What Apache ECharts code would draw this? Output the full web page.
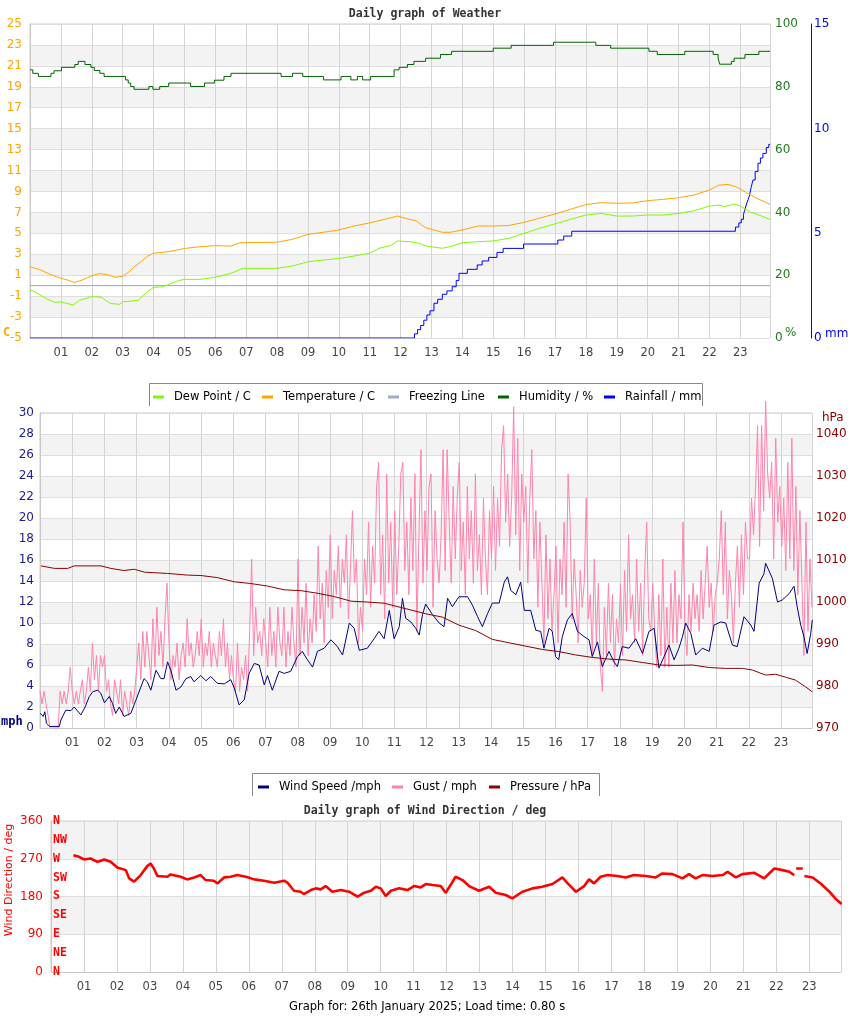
<!DOCTYPE html>
<html><head><meta charset="utf-8">
<script src="https://cdn.jsdelivr.net/npm/echarts@6/dist/echarts.min.js"></script>
<style>html,body{margin:0;padding:0;background:#fff}#c{width:850px;height:1017px}</style>
</head><body><div id="c"></div>
<script>
// ---------- DATA (hour of day, value) ----------
const hourTickLabels = ['01','02','03','04','05','06','07','08','09','10','11','12','13','14','15','16','17','18','19','20','21','22','23'];
const compassLabels = ['N','NE','E','SE','S','SW','W','NW','N'];

const temperature = [[0,1.8],[0.3,1.55],[0.6,1.15],[0.9,0.8],[1.2,0.55],[1.45,0.3],[1.7,0.55],[2.0,0.95],[2.25,1.15],[2.5,1.05],[2.75,0.8],[3.0,0.9],[3.2,1.3],[3.4,1.85],[3.6,2.3],[3.8,2.8],[4.0,3.1],[4.5,3.25],[5.0,3.55],[5.5,3.72],[6.0,3.82],[6.5,3.78],[6.8,4.1],[7.5,4.13],[8.0,4.15],[8.5,4.43],[9.0,4.9],[9.5,5.1],[10.0,5.32],[10.5,5.7],[11.0,6.0],[11.5,6.35],[11.9,6.65],[12.2,6.4],[12.5,6.2],[12.8,5.55],[13.35,5.1],[13.6,5.1],[14.0,5.32],[14.5,5.7],[15.0,5.7],[15.5,5.75],[16.0,6.05],[16.5,6.45],[17.0,6.85],[17.5,7.3],[18.0,7.75],[18.5,7.93],[19.0,7.87],[19.5,7.9],[20.0,8.12],[20.5,8.25],[21.0,8.4],[21.5,8.66],[22.0,9.14],[22.3,9.6],[22.6,9.68],[22.9,9.4],[23.2,8.88],[23.5,8.4],[23.96,7.77]];

const dewPoint = [[0,-0.4],[0.2,-0.65],[0.5,-1.2],[0.8,-1.6],[1.0,-1.55],[1.4,-1.85],[1.6,-1.4],[2.0,-1.05],[2.3,-1.1],[2.6,-1.7],[2.9,-1.78],[3.0,-1.55],[3.5,-1.4],[3.8,-0.57],[4.0,-0.16],[4.3,-0.1],[4.8,0.48],[5.0,0.6],[5.5,0.6],[6.0,0.8],[6.5,1.18],[6.9,1.66],[8.0,1.66],[8.2,1.75],[8.5,1.88],[9.0,2.29],[9.5,2.45],[10.0,2.6],[10.5,2.83],[11.0,3.1],[11.3,3.57],[11.7,3.86],[11.9,4.27],[12.3,4.2],[12.6,4.05],[12.8,3.8],[13.35,3.57],[13.6,3.73],[14.0,4.1],[14.5,4.2],[15.0,4.27],[15.5,4.52],[16.0,5.0],[16.5,5.48],[17.0,5.9],[17.5,6.34],[18.0,6.75],[18.5,6.9],[19.0,6.65],[19.5,6.65],[20.0,6.75],[20.5,6.75],[21.0,6.9],[21.5,7.16],[22.0,7.6],[22.3,7.7],[22.5,7.55],[22.8,7.8],[23.0,7.6],[23.3,7.07],[23.6,6.75],[23.96,6.34]];

const freezingLine = [[0,0],[23.96,0]];

// step changes (hour at which new value starts, value)
const humidity = [[0,85.4],[0.09,84.3],[0.27,83.3],[0.68,84.3],[0.78,85.1],[1.02,86.2],[1.45,87.1],[1.56,88.1],[1.78,87.1],[1.97,86.2],[2.08,85.2],[2.26,84.3],[2.4,83.3],[3.09,82.2],[3.18,81.2],[3.26,80.1],[3.37,79.2],[3.85,80.1],[3.98,79.2],[4.2,80.1],[4.49,81.2],[5.2,80.1],[5.65,81.2],[5.97,82.1],[6.28,83.3],[6.51,84.3],[8.13,83.3],[8.5,84.3],[8.83,83.3],[9.5,82.2],[10.07,83.3],[10.39,82.2],[10.6,83.3],[10.77,82.2],[11.03,83.3],[11.79,85.4],[11.95,86.2],[12.22,87.1],[12.43,88.1],[12.81,89.1],[13.29,90.3],[13.65,91.3],[15.0,92.3],[15.58,93.2],[16.95,94.2],[18.32,93.2],[18.8,92.3],[20.04,91.3],[20.31,90.3],[21.2,91.3],[22.12,90.3],[22.28,89.1],[22.33,87.2],[22.71,88.1],[22.8,89.1],[23.15,90.3],[23.6,91.3],[23.96,91.3]];

const rainfall = [[0,0],[12.35,0],[12.45,0.2],[12.55,0.4],[12.65,0.6],[12.75,0.85],[12.85,1.1],[12.95,1.3],[13.08,1.66],[13.2,1.85],[13.35,2.09],[13.5,2.25],[13.67,2.45],[13.8,2.75],[13.89,3.09],[14.16,3.28],[14.48,3.49],[14.64,3.68],[14.85,3.85],[15.12,4.09],[15.32,4.28],[15.98,4.49],[17.09,4.68],[17.28,4.87],[17.54,5.1],[22.84,5.3],[22.95,5.5],[23.03,5.67],[23.1,5.9],[23.14,6.1],[23.2,6.4],[23.25,6.6],[23.3,6.83],[23.35,7.2],[23.41,7.55],[23.48,7.95],[23.57,8.35],[23.65,8.6],[23.73,8.82],[23.84,9.1],[23.92,9.25],[23.96,9.25]];

const windSpeed = [[0.0,1.4],[0.1,1.1],[0.15,1.55],[0.2,0.45],[0.3,0.15],[0.6,0.15],[0.65,0.76],[0.8,1.7],[0.96,1.65],[1.06,2.0],[1.27,1.25],[1.4,2.0],[1.53,3.0],[1.64,3.46],[1.79,3.6],[1.89,3.3],[2.0,2.4],[2.15,3.0],[2.25,2.35],[2.35,1.4],[2.46,2.0],[2.56,1.4],[2.61,1.1],[2.82,1.4],[2.92,2.2],[3.13,3.9],[3.23,4.7],[3.33,4.4],[3.44,3.6],[3.6,5.5],[3.75,4.7],[3.85,4.7],[3.96,6.3],[4.06,5.5],[4.22,3.6],[4.37,3.9],[4.53,4.7],[4.68,4.9],[4.78,4.4],[4.99,5.0],[5.15,4.5],[5.3,4.9],[5.51,4.25],[5.72,4.2],[5.92,4.6],[6.03,3.8],[6.18,2.2],[6.34,2.7],[6.49,5.2],[6.65,6.15],[6.8,6.0],[6.96,4.1],[7.06,5.0],[7.21,3.6],[7.42,5.4],[7.58,5.2],[7.78,5.4],[7.99,6.8],[8.14,7.3],[8.3,6.5],[8.46,5.8],[8.61,7.3],[8.82,7.6],[9.03,8.4],[9.23,7.75],[9.39,6.95],[9.6,10.0],[9.75,9.5],[9.91,7.4],[10.16,7.6],[10.37,8.5],[10.52,9.2],[10.68,8.5],[10.84,11.2],[10.99,8.5],[11.15,9.65],[11.25,12.35],[11.35,10.45],[11.51,10.1],[11.66,9.5],[11.77,8.85],[11.87,10.8],[11.97,11.8],[12.18,10.8],[12.39,10.0],[12.54,9.65],[12.65,12.35],[12.8,11.55],[13.0,12.5],[13.27,12.5],[13.42,11.7],[13.58,10.6],[13.73,9.65],[13.89,10.9],[14.04,11.9],[14.25,11.9],[14.41,13.9],[14.51,14.4],[14.61,13.1],[14.77,12.7],[14.92,13.9],[15.03,11.2],[15.23,11.2],[15.39,9.3],[15.54,9.2],[15.64,7.6],[15.8,9.5],[15.9,9.2],[16.0,6.8],[16.1,6.5],[16.21,8.7],[16.37,10.3],[16.52,10.9],[16.68,9.2],[16.89,8.7],[17.04,8.4],[17.14,6.8],[17.3,8.2],[17.45,5.85],[17.66,7.3],[17.81,6.3],[17.92,5.85],[18.07,7.75],[18.28,7.6],[18.49,8.5],[18.7,7.1],[18.9,9.2],[19.06,9.5],[19.21,5.7],[19.37,6.8],[19.52,7.9],[19.68,6.5],[19.83,7.6],[19.94,8.7],[20.04,10.0],[20.2,9.0],[20.35,6.95],[20.56,7.6],[20.77,7.3],[20.92,9.8],[21.13,10.1],[21.28,10.0],[21.49,7.9],[21.64,7.75],[21.85,10.6],[22.06,9.8],[22.16,9.2],[22.32,13.8],[22.47,14.7],[22.52,15.7],[22.73,14.25],[22.89,12.0],[23.04,12.2],[23.25,12.8],[23.4,13.5],[23.5,11.55],[23.61,9.8],[23.71,8.7],[23.81,7.1],[23.92,9.0],[23.97,10.3]];

// gust, 16 readings per hour from 00:00 (one row per hour)
const gust = [
 3.5,2.3,3.5,2.3,1.2,0,0,0,0,0,3.5,2.3,3.5,2.3,3.5,5.8,
 3.5,2.3,3.5,2.3,3.5,4.6,2.3,3.5,5.8,3.5,8.1,4.6,6.9,3.5,6.9,5.8,
 6.9,3.5,4.6,2.3,1.2,4.6,3.5,2.3,4.6,1.2,3.5,2.3,1.2,3.5,2.3,3.5,
 5.8,8.1,4.6,9.2,5.8,9.2,6.9,4.6,10.4,5.8,11.5,6.9,9.2,5.8,10.4,13.8,
 8.1,4.6,6.9,5.8,8.1,4.6,6.9,8.1,5.8,10.4,6.9,8.1,5.8,6.9,9.2,6.9,
 10.4,5.8,8.1,6.9,9.2,5.8,8.1,6.9,5.8,9.2,6.9,10.4,5.8,8.1,4.6,6.9,
 4.6,3.5,8.1,3.5,5.8,4.6,6.9,3.5,9.2,16.1,6.9,11.5,8.1,9.2,6.9,10.4,
 8.1,5.8,11.5,6.9,9.2,5.8,11.5,8.1,6.9,11.5,5.8,9.2,6.9,11.5,8.1,5.8,
 16.1,6.9,11.5,8.1,13.8,6.9,10.4,8.1,12.7,9.2,17.3,10.4,13.8,8.1,15.0,11.5,
 18.4,10.4,15.0,12.7,17.3,11.5,16.1,13.8,18.4,10.4,15.0,20.7,13.8,16.1,8.1,11.5,
 9.2,16.1,12.7,19.6,11.5,17.3,13.8,23.0,25.3,12.7,18.4,10.4,24.2,13.8,19.6,11.5,
 20.7,12.7,17.3,24.2,25.3,15.0,19.6,12.7,21.9,15.0,24.2,9.2,18.4,26.5,13.8,20.7,
 15.0,23.0,24.2,11.5,20.7,16.1,13.8,18.4,26.5,15.0,26.5,19.6,13.8,23.0,16.1,21.9,
 25.3,15.0,19.6,12.7,23.0,16.1,20.7,13.8,24.2,15.0,18.4,12.7,21.9,16.1,12.7,20.7,
 16.1,23.0,15.0,21.9,17.3,26.5,28.8,19.6,24.2,17.3,21.9,30.6,18.4,27.6,15.0,24.2,
 19.6,23.0,13.8,21.9,26.5,16.1,20.7,11.5,19.6,13.8,8.1,18.4,10.4,16.1,9.2,12.7,
 17.3,8.1,16.1,12.7,19.6,11.5,24.2,19.6,10.4,16.1,12.7,8.1,15.0,11.5,13.8,21.9,
 10.4,12.7,6.9,16.1,8.1,13.8,5.8,3.5,11.5,6.9,13.8,8.1,12.7,5.8,10.4,8.1,
 13.8,6.9,15.0,9.2,18.4,10.4,12.7,8.1,16.1,9.2,13.8,6.9,15.0,19.6,10.4,9.2,
 13.8,9.2,5.8,12.7,6.9,16.1,5.8,11.5,5.8,13.8,8.1,15.0,8.1,12.7,10.4,19.6,
 9.2,6.9,12.7,9.2,13.8,10.4,12.7,9.2,15.0,10.4,13.8,17.3,11.5,13.8,9.2,12.7,
 13.8,16.1,20.7,12.7,19.6,10.4,15.0,12.7,8.1,13.8,17.3,11.5,18.4,12.7,19.6,16.1,
 16.1,21.9,18.4,23.0,28.8,17.3,28.8,20.7,31.1,24.2,21.9,25.3,16.1,27.6,19.6,23.0,
 17.3,21.9,15.0,25.3,16.1,27.6,15.0,23.0,12.7,20.7,13.8,6.9,19.6,9.2,16.1,11.5
];
const gustStepHours = 23.96 / (gust.length - 1);

const pressure = [[0.03,1008.6],[0.45,1008.0],[0.86,1008.0],[1.06,1008.6],[1.89,1008.6],[2.2,1008.0],[2.6,1007.5],[2.93,1007.8],[3.24,1007.1],[3.96,1006.8],[4.58,1006.4],[5.0,1006.3],[5.51,1005.8],[6.03,1004.8],[6.54,1004.4],[7.06,1003.8],[7.58,1002.9],[8.1,1002.7],[8.6,1002.1],[9.13,1001.3],[9.65,1000.2],[10.16,1000.0],[10.68,999.7],[11.2,998.7],[11.97,997.2],[12.49,996.4],[13.0,994.5],[13.52,993.2],[14.04,991.1],[14.55,990.3],[15.07,989.5],[15.59,988.7],[16.1,988.2],[16.62,987.4],[17.14,986.8],[17.66,986.4],[18.18,986.2],[18.7,985.6],[19.21,985.0],[19.73,984.9],[20.25,985.0],[20.77,984.4],[21.28,984.2],[21.8,984.2],[22.11,983.8],[22.52,982.6],[22.83,982.8],[23.14,982.1],[23.45,981.4],[23.76,979.8],[23.97,978.6]];

const windDirection = [[0.68,278.5],[0.85,274.6],[1.0,268.3],[1.2,270.6],[1.41,262.7],[1.51,265],[1.61,268.3],[1.81,262.7],[2.01,249.3],[2.27,242.9],[2.37,223.2],[2.52,215.3],[2.72,231.1],[2.92,252.4],[3.02,258.8],[3.12,246.9],[3.23,228.7],[3.53,227.1],[3.63,232.7],[3.93,227.1],[4.13,220.8],[4.34,225.5],[4.54,231.1],[4.69,219.2],[4.94,217.6],[5.05,211.3],[5.25,225.5],[5.45,227.1],[5.65,231.1],[5.91,227.1],[6.16,220.8],[6.46,217.6],[6.77,212.9],[7.07,217.6],[7.17,212.9],[7.37,193.8],[7.57,191.4],[7.67,185.9],[7.88,195.4],[8.03,199.4],[8.18,197.0],[8.33,204.9],[8.53,191.4],[8.79,195.4],[9.04,191.4],[9.3,179.5],[9.5,189.0],[9.7,193.8],[9.85,203.3],[10.0,199.4],[10.15,181.1],[10.31,193.8],[10.56,199.4],[10.81,195.4],[11.01,204.9],[11.21,201.7],[11.37,209.7],[11.57,207.3],[11.82,204.9],[11.97,189.0],[12.12,207.3],[12.27,227.1],[12.48,219.2],[12.68,204.9],[12.98,193.8],[13.29,203.3],[13.49,189.0],[13.79,183.5],[13.99,175.6],[14.3,191.4],[14.6,199.4],[14.9,203.3],[15.21,209.7],[15.51,225.5],[15.67,211.3],[15.92,191.4],[16.17,204.9],[16.32,220.8],[16.47,211.3],[16.67,227.1],[16.88,231.1],[17.18,228.7],[17.43,225.5],[17.68,231.1],[18.04,228.7],[18.34,225.5],[18.54,234.9],[18.85,233.3],[19.15,223.2],[19.35,233.3],[19.55,223.2],[19.76,231.1],[20.06,228.7],[20.37,231.1],[20.52,239.0],[20.77,225.5],[20.97,233.3],[21.33,236.6],[21.63,223.2],[21.78,234.9],[21.94,246.9],[22.19,242.9],[22.39,239.0],[22.54,231.1],[22.57,null],[22.6,246.9],[22.8,246.9],[22.82,null],[22.85,228.7],[23.1,225.5],[23.36,209.7],[23.61,191.4],[23.81,173.2],[23.98,162.1]];

// ---------- CHART ----------
const FONT = 'DejaVu Sans';
const MONO = 'DejaVu Sans Mono';
const X_MAX = 23.96;

function hourLabel(v) {
  const i = Math.round(v);
  if (Math.abs(v - i) < 1e-6 && i >= 1 && i <= 23) return hourTickLabels[i - 1];
  return '';
}
function hourAxis(gridIndex) {
  return {
    type: 'value', gridIndex, min: 0, max: X_MAX, interval: 1,
    axisTick: { show: false },
    axisLine: { show: true, lineStyle: { color: '#c8c8c8' } },
    splitLine: { show: true, lineStyle: { color: '#d4d4d4' } },
    axisLabel: { color: '#444', fontSize: 11.5, margin: 9, fontFamily: FONT, formatter: hourLabel }
  };
}
const bands = { show: true, areaStyle: { color: ['#ffffff', '#f3f3f3'] } };
const hLines = { show: true, lineStyle: { color: '#dedede' } };

function line(name, xi, yi, data, color, extra) {
  return Object.assign({
    name, type: 'line', xAxisIndex: xi, yAxisIndex: yi, data,
    symbol: 'none', showSymbol: false, animation: false,
    lineStyle: { width: 1, color }, itemStyle: { color }
  }, extra || {});
}
function legendItem(name, left, top) {
  return { data: [name], left, top, padding: 0, itemWidth: 11, itemHeight: 3, icon: 'rect',
    textStyle: { fontSize: 11.5, color: '#000', fontFamily: FONT, padding: [0, 0, 0, 5] } };
}

const option = {
  animation: false,
  backgroundColor: '#fff',
  textStyle: { fontFamily: FONT },
  title: [
    { text: 'Daily graph of Weather', left: 'center', top: 3,
      textStyle: { fontFamily: MONO, fontWeight: 'bold', fontSize: 11.5, color: '#333' } },
    { text: 'Daily graph of Wind Direction / deg', left: 'center', top: 800,
      textStyle: { fontFamily: MONO, fontWeight: 'bold', fontSize: 11.5, color: '#333' } },
    { text: 'Graph for: 26th January 2025; Load time: 0.80 s', left: 284, top: 996,
      textStyle: { fontFamily: FONT, fontWeight: 'normal', fontSize: 11.5, color: '#000' } }
  ],
  legend: [
    legendItem('Dew Point / C', 153, 391),
    legendItem('Temperature / C', 262, 391),
    legendItem('Freezing Line', 388, 391),
    legendItem('Humidity / %', 498, 391),
    legendItem('Rainfall / mm', 604, 391),
    legendItem('Wind Speed /mph', 258, 781),
    legendItem('Gust / mph', 392, 781),
    legendItem('Pressure / hPa', 489, 781)
  ],
  grid: [
    { left: 30, top: 24, width: 740, height: 314, show: true, borderColor: '#ccc', borderWidth: 1 },
    { left: 40, top: 413, width: 772, height: 315, show: true, borderColor: '#ccc', borderWidth: 1 },
    { left: 51, top: 821, width: 790, height: 151, show: true, borderColor: '#ccc', borderWidth: 1 }
  ],
  xAxis: [hourAxis(0), hourAxis(1), hourAxis(2)],
  yAxis: [
    { type: 'value', gridIndex: 0, position: 'left', min: -5, max: 25, interval: 2,
      axisLine: { show: true, lineStyle: { color: '#c8c8c8' } }, axisTick: { show: false },
      splitLine: hLines, splitArea: bands,
      axisLabel: { color: '#ffa500', fontSize: 12, margin: 8 } },
    { type: 'value', gridIndex: 0, position: 'right', min: 0, max: 100, interval: 20,
      axisLine: { show: false }, axisTick: { show: false }, splitLine: { show: false },
      axisLabel: { color: '#1f7a1f', fontSize: 12, margin: 5 } },
    { type: 'value', gridIndex: 0, position: 'right', offset: 41, min: 0, max: 15, interval: 5,
      axisLine: { show: true, lineStyle: { color: '#0000ff' } }, axisTick: { show: false }, splitLine: { show: false },
      axisLabel: { color: '#0000ff', fontSize: 12, margin: 3 } },
    { type: 'value', gridIndex: 1, position: 'left', min: 0, max: 30, interval: 2,
      axisLine: { show: true, lineStyle: { color: '#c8c8c8' } }, axisTick: { show: false },
      splitLine: hLines, splitArea: bands,
      axisLabel: { color: '#1c1c8c', fontSize: 12, margin: 6 } },
    { type: 'value', gridIndex: 1, position: 'right', min: 970, max: 1045, interval: 10,
      axisLine: { show: false }, axisTick: { show: false }, splitLine: { show: false },
      axisLabel: { color: '#8b0000', fontSize: 12, margin: 4, formatter: v => (v % 10 === 0 && v <= 1040) ? String(v) : '' } },
    { type: 'value', gridIndex: 2, position: 'left', min: 0, max: 360, interval: 90,
      axisLine: { show: true, lineStyle: { color: '#c8c8c8' } }, axisTick: { show: false },
      splitLine: hLines, splitArea: bands,
      axisLabel: { color: '#ff0000', fontSize: 12, margin: 8 } },
    { type: 'value', gridIndex: 2, position: 'left', min: 0, max: 360, interval: 45,
      axisLine: { show: false }, axisTick: { show: false }, splitLine: { show: false },
      axisLabel: { inside: true, margin: 2, color: '#ff0000', fontFamily: MONO, fontWeight: 'bold', fontSize: 11.5,
        formatter: v => compassLabels[Math.round(v / 45)] || '' } }
  ],
  series: [
    line('Humidity / %', 0, 1, humidity, '#006400', { step: 'end' }),
    line('Freezing Line', 0, 0, freezingLine, '#a3aec4'),
    line('Rainfall / mm', 0, 2, rainfall, '#0000ff', { step: 'end' }),
    line('Temperature / C', 0, 0, temperature, '#ffa500'),
    line('Dew Point / C', 0, 0, dewPoint, '#7cfc00'),
    line('Gust / mph', 1, 3, gust.map((v, i) => [i * gustStepHours, v]), '#ff84aa', { clip: false }),
    line('Wind Speed /mph', 1, 3, windSpeed, '#000080'),
    line('Pressure / hPa', 1, 4, pressure, '#8b0000'),
    line('Wind Direction', 2, 5, windDirection, '#ff0000', { lineStyle: { width: 2.6, color: '#ff0000' }, connectNulls: false })
  ],
  graphic: [
    { type: 'polyline', shape: { points: [[149.5, 406], [149.5, 383.5], [702.5, 383.5], [702.5, 406]] }, style: { stroke: '#888', fill: null, lineWidth: 1 } },
    { type: 'polyline', shape: { points: [[252.5, 796], [252.5, 773.5], [599.5, 773.5], [599.5, 796]] }, style: { stroke: '#888', fill: null, lineWidth: 1 } },
    { type: 'text', x: 3, y: 327, style: { text: 'C', fill: '#ffa500', font: 'bold 12px ' + MONO } },
    { type: 'text', x: 785, y: 327, style: { text: '%', fill: '#1f7a1f', font: '12px ' + FONT } },
    { type: 'text', x: 825, y: 328, style: { text: 'mm', fill: '#0000ff', font: '12px ' + FONT } },
    { type: 'text', x: 1, y: 716, style: { text: 'mph', fill: '#000080', font: 'bold 12px ' + MONO } },
    { type: 'text', x: 822, y: 412, style: { text: 'hPa', fill: '#8b0000', font: '12px ' + FONT } },
    { type: 'text', x: 9, y: 880, rotation: Math.PI / 2,
      style: { text: 'Wind Direction / deg', fill: '#ff0000', font: '11px ' + FONT, textAlign: 'center', textVerticalAlign: 'middle' } }
  ]
};

const chart = echarts.init(document.getElementById('c'), null, { renderer: 'canvas' });
chart.setOption(option);
</script>
</body></html>
